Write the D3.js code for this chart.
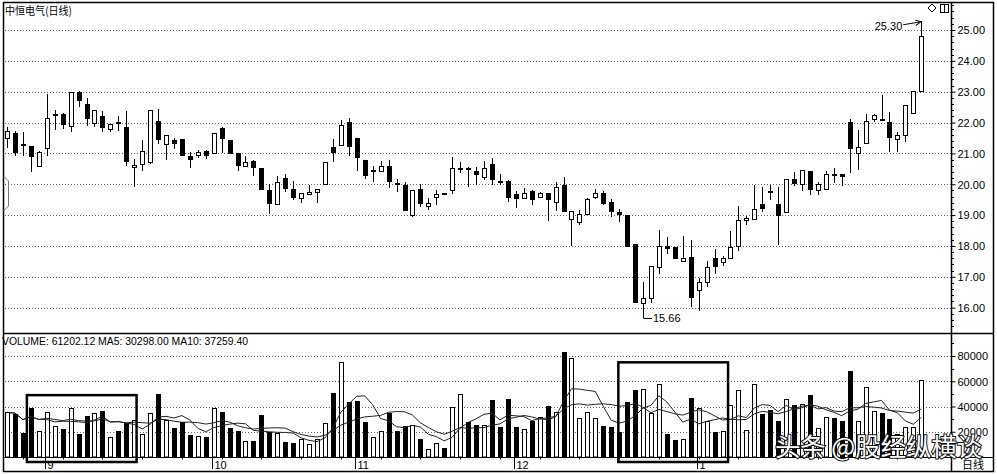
<!DOCTYPE html>
<html><head><meta charset="utf-8">
<script src="https://cdn.jsdelivr.net/npm/d3@7"></script>
<style>
body{margin:0;background:#fff}
svg{display:block}
text{font-family:"Liberation Sans",Arial,sans-serif;fill:#000}
</style>
</head><body><svg id="c" width="997" height="474"></svg>
<script>
// ---------- DATA ----------
const title = "中恒电气(日线)";
const opens  = [21.49,21.66,21.31,21.23,20.60,21.19,22.26,22.27,21.89,23.00,22.61,21.97,22.21,21.78,22.02,21.86,20.56,20.66,20.71,22.05,
                21.30,21.43,21.46,20.91,20.96,21.09,21.00,21.82,21.44,21.00,20.60,20.76,20.52,19.82,19.37,20.19,19.85,19.56,19.69,19.76,
                20.01,21.22,21.28,22.02,21.49,20.78,20.42,20.44,20.60,20.03,19.99,18.99,19.85,19.28,19.60,19.71,19.82,20.50,20.53,20.44,
                20.22,20.65,20.10,20.11,19.68,19.54,19.79,19.59,19.70,19.44,19.98,18.87,18.76,19.03,19.59,19.73,19.41,19.11,19.00,18.06,
                16.16,16.32,17.32,18.00,17.95,17.52,17.65,16.56,16.84,17.62,17.48,17.62,17.99,18.83,18.86,19.35,19.78,19.35,19.10,20.18,
                20.00,20.43,19.81,19.83,20.33,20.33,22.02,21.02,21.34,22.10,22.11,22.02,21.48,21.59,22.32,23.03];
const highs  = [21.86,21.73,21.68,21.25,21.09,22.91,22.40,22.30,23.00,23.02,22.81,22.42,22.38,21.95,22.21,22.38,20.82,21.43,22.40,22.43,
                21.59,21.49,21.47,21.06,21.11,21.11,21.65,21.86,21.45,21.01,20.92,20.77,20.53,20.01,20.28,20.33,20.12,19.72,19.98,19.84,
                20.71,21.46,22.08,22.14,21.50,20.79,20.60,20.76,20.78,20.17,20.06,19.82,20.01,19.56,19.82,19.72,20.87,20.71,20.55,20.57,
                20.76,20.85,20.33,20.13,19.77,19.87,19.80,19.75,19.73,20.06,20.22,19.14,19.16,19.57,19.86,19.79,19.52,19.19,19.01,18.07,
                16.84,17.35,18.51,18.29,17.96,18.33,18.19,16.97,17.52,17.89,17.68,18.48,19.29,18.96,19.97,19.91,19.97,19.91,20.18,20.40,
                20.45,20.44,20.08,20.43,20.54,20.34,22.10,21.75,22.29,22.29,22.89,22.35,21.70,22.56,23.03,25.30];
const lows   = [21.19,20.92,20.92,20.39,20.57,20.92,21.75,21.78,21.68,22.50,21.89,21.84,21.68,21.68,21.73,20.60,19.90,20.44,20.66,21.32,
                20.78,21.14,20.96,20.53,20.85,20.82,21.00,21.00,21.00,20.42,20.57,20.28,19.80,19.04,19.37,19.74,19.49,19.39,19.67,19.40,
                20.01,20.71,21.28,20.92,20.44,20.17,20.06,20.44,19.88,19.74,19.13,18.94,19.26,19.17,19.34,19.64,19.67,20.35,19.90,19.99,
                20.13,19.98,19.98,19.44,19.23,19.54,19.33,19.57,18.81,19.14,19.14,18.00,18.68,19.03,19.52,19.33,18.94,18.76,18.00,16.19,
                15.66,16.16,17.08,17.75,17.62,17.52,16.02,15.89,16.67,17.10,17.36,17.62,17.84,18.67,18.86,19.10,19.48,18.02,19.10,19.94,
                19.78,19.64,19.64,19.83,20.04,19.94,20.37,20.45,21.34,22.02,22.08,21.05,21.05,21.37,22.32,23.03];
const closes = [21.71,21.05,21.29,20.92,21.03,22.16,22.29,21.95,23.00,22.72,22.14,22.42,21.84,21.95,21.99,20.74,20.62,21.09,22.40,21.46,
                21.59,21.33,20.96,20.81,21.05,20.96,21.65,21.49,21.00,20.63,20.71,20.55,19.85,19.39,20.06,19.88,19.58,19.71,19.76,19.83,
                20.71,21.03,21.91,21.25,20.89,20.30,20.46,20.60,20.12,20.00,19.17,19.82,19.39,19.40,19.69,19.69,20.53,20.54,20.50,20.33,
                20.52,20.17,20.08,19.59,19.57,19.70,19.52,19.73,19.52,19.90,19.14,19.14,19.05,19.52,19.71,19.38,19.12,19.03,18.00,16.19,
                16.32,17.35,18.00,17.93,17.62,17.62,16.35,16.84,17.32,17.35,17.61,17.97,18.83,18.89,19.21,19.24,19.76,18.99,20.18,20.04,
                20.45,19.83,20.00,20.32,20.31,20.27,21.16,21.21,22.06,22.24,22.09,21.54,21.59,22.56,23.03,24.81];
const volumes = [35400,34100,19400,38900,20800,35400,24300,22100,38900,18600,32300,34900,36300,16000,20800,26700,29300,18100,34700,49600,
                 29300,22900,27500,17300,16800,15500,38900,36000,22900,20800,12800,12800,33300,20000,18900,12000,10700,14100,10100,14100,
                 26700,50900,75500,43500,44000,28000,16000,20800,34700,20300,24300,25300,14100,6100,10900,7500,40000,50100,28000,25600,
                 25300,44800,23500,46100,23500,22100,28800,32000,40300,35500,83500,78700,30900,35500,30900,24800,23500,19500,43500,52800,
                 54100,34700,57600,18600,13300,14100,46700,38700,28300,20000,20800,40800,53300,21300,58100,34100,37300,28800,46100,40800,
                 42100,49300,22900,32000,30700,28800,68300,28800,55500,36800,34700,30100,18000,23500,23500,61202.12];
const monthLabels = ["9","10","11","12","1"];
const monthStartIndex = [5,26,44,64,87];
const priceTicks = [16,17,18,19,20,21,22,23,24,25];
const volumeTicks = [20000,40000,60000,80000];
const maPeriods = [5,10];
const maLabelValues = [30298.00, 37259.40];
const boxStartIndex = [2.5,76.9];
const boxEndIndex = [16.3,90.7];
const boxTopVolume = [49000,75000];
const watermark = "头条 @股经纵横谈";
const periodLabel = "日线";

// ---------- LAYOUT ----------
const svg = d3.select("#c");
const L = 3.5, R = 993.5, T = 2.5, B = 471.5;
const axisX = 951.5;
const sepY = 333.5, volBase = 457;
const n = closes.length;

const x = d3.scaleLinear().domain([0, n-1]).range([7, 921.25]);
const y = d3.scaleLinear().domain([15.178, 25.875]).range([333, 3]);
const yv = d3.scaleLinear().domain([0, 80000]).range([volBase, 356]);

const px = v => Math.round(v) + 0.5;

// gridlines
const grid = svg.append("g").attr("stroke", "#666").attr("stroke-dasharray", "1,2").attr("stroke-width", 1);
grid.selectAll("line.p").data(priceTicks).join("line")
  .attr("x1", 5).attr("x2", axisX).attr("y1", d => px(y(d))).attr("y2", d => px(y(d)));
grid.selectAll("line.v").data(volumeTicks).join("line")
  .attr("x1", 5).attr("x2", axisX).attr("y1", d => px(yv(d))).attr("y2", d => px(yv(d)));

// candles
const idx = d3.range(n);
const up = i => closes[i] >= opens[i];
const cg = svg.append("g");
cg.selectAll("line").data(idx).join("line")
  .attr("x1", i => Math.round(x(i)) + 0.5).attr("x2", i => Math.round(x(i)) + 0.5)
  .attr("y1", i => Math.round(y(highs[i]))).attr("y2", i => Math.round(y(lows[i])))
  .attr("stroke", "#000").attr("stroke-width", 1);
cg.selectAll("rect").data(idx).join("rect")
  .attr("x", i => Math.round(x(i)) - 1.5).attr("width", 4)
  .attr("y", i => px(y(Math.max(opens[i], closes[i]))))
  .attr("height", i => Math.max(1, Math.round(y(Math.min(opens[i], closes[i]))) - Math.round(y(Math.max(opens[i], closes[i])))))
  .attr("fill", i => up(i) ? "#fff" : "#000").attr("stroke", "#000").attr("stroke-width", 1);

// volume bars
svg.append("g").selectAll("rect").data(idx).join("rect")
  .attr("x", i => Math.round(x(i)) - 1.5).attr("width", 4)
  .attr("y", i => px(yv(volumes[i])))
  .attr("height", i => volBase - px(yv(volumes[i])))
  .attr("fill", i => up(i) ? "#fff" : "#000").attr("stroke", "#000").attr("stroke-width", 1);

// moving averages
const ma = p => volumes.map((_, i) => d3.mean(volumes.slice(Math.max(0, i - p + 1), i + 1)));
const lineGen = d3.line().x((d, i) => x(i)).y(d => yv(d));
maPeriods.forEach(p => {
  svg.append("path").attr("d", lineGen(ma(p))).attr("fill", "none").attr("stroke", "#222").attr("stroke-width", 1);
});

// annotation boxes
svg.append("g").selectAll("rect").data(boxStartIndex.map((s, k) => k)).join("rect")
  .attr("x", k => x(boxStartIndex[k])).attr("width", k => x(boxEndIndex[k]) - x(boxStartIndex[k]))
  .attr("y", k => yv(boxTopVolume[k])).attr("height", k => volBase + 5 - yv(boxTopVolume[k]))
  .attr("fill", "none").attr("stroke", "#000").attr("stroke-width", 2.5);

// frame lines
const frame = svg.append("g").attr("stroke", "#000").attr("stroke-width", 1).attr("fill", "none");
frame.append("rect").attr("x", L).attr("y", T).attr("width", R - L).attr("height", B - T).attr("stroke-width", 1.5);
frame.append("line").attr("x1", L).attr("x2", R).attr("y1", sepY).attr("y2", sepY).attr("stroke-width", 1.5);
frame.append("line").attr("x1", L).attr("x2", R).attr("y1", volBase + 0.5).attr("y2", volBase + 0.5);
frame.append("line").attr("x1", axisX).attr("x2", axisX).attr("y1", T).attr("y2", B).attr("stroke-width", 1.5);

// right price axis
const pAxis = d3.axisRight(y).tickValues(priceTicks).tickFormat(d3.format(".2f")).tickSize(4).tickPadding(2);
const pg = svg.append("g").attr("transform", `translate(${axisX},0)`).call(pAxis);
pg.select(".domain").remove();
pg.selectAll("text").attr("font-size", 11).attr("font-family", "Liberation Sans, Arial, sans-serif").attr("dy", "0.35em");
const minorP = d3.range(15.4, 25.81, 0.2).filter(v => Math.abs(v - Math.round(v)) > 0.01);
svg.append("g").selectAll("line").data(minorP).join("line")
  .attr("x1", axisX).attr("x2", axisX + 2.5).attr("y1", d => px(y(d))).attr("y2", d => px(y(d))).attr("stroke", "#000");

// right volume axis
const vAxis = d3.axisRight(yv).tickValues(volumeTicks).tickFormat(d3.format("d")).tickSize(4).tickPadding(2);
const vg = svg.append("g").attr("transform", `translate(${axisX},0)`).call(vAxis);
vg.select(".domain").remove();
vg.selectAll("text").attr("font-size", 11).attr("font-family", "Liberation Sans, Arial, sans-serif").attr("dy", "0.35em");
const minorV = d3.range(10000, 95000, 10000).filter(v => v % 20000 !== 0);
svg.append("g").selectAll("line").data(minorV).join("line")
  .attr("x1", axisX).attr("x2", axisX + 2.5).attr("y1", d => px(yv(d))).attr("y2", d => px(yv(d))).attr("stroke", "#000");

// x axis month ticks
const mg = svg.append("g");
mg.selectAll("line").data(monthStartIndex).join("line")
  .attr("x1", d => Math.round(x(d)) - 1.5).attr("x2", d => Math.round(x(d)) - 1.5)
  .attr("y1", volBase).attr("y2", volBase + 12).attr("stroke", "#000");
mg.selectAll("text").data(monthStartIndex).join("text")
  .attr("x", d => Math.round(x(d)) + 0.5).attr("y", volBase + 12)
  .attr("font-size", 11).text((d, k) => monthLabels[k]);
svg.append("g").selectAll("line").data(d3.range(2, n, 5)).join("line")
  .attr("x1", d => Math.round(x(d)) + 0.5).attr("x2", d => Math.round(x(d)) + 0.5)
  .attr("y1", volBase).attr("y2", volBase + 2.5).attr("stroke", "#000");

// titles
svg.append("text").attr("x", 5).attr("y", 15).attr("font-size", 11)
  .attr("textLength", 67).attr("lengthAdjust", "spacingAndGlyphs")
  .style("font-family", "'Noto Sans CJK SC',sans-serif").text(title);
const last = n - 1;
const f2 = d3.format(".2f");
svg.append("text").attr("x", 2).attr("y", 345).attr("font-size", 11)
  .attr("textLength", 246).attr("lengthAdjust", "spacingAndGlyphs")
  .text(`VOLUME: ${f2(volumes[last])} MA5: ${f2(maLabelValues[0])} MA10: ${f2(maLabelValues[1])}`);

// high / low markers
const hi = d3.maxIndex(highs), lo = d3.minIndex(lows);
svg.append("text").attr("x", x(hi) - 19).attr("y", y(highs[hi]) + 9).attr("font-size", 11).attr("text-anchor", "end")
  .text(f2(highs[hi]));
svg.append("defs").append("marker").attr("id", "ah").attr("viewBox", "0 0 6 6").attr("refX", 6).attr("refY", 3)
  .attr("markerWidth", 6).attr("markerHeight", 6).attr("orient", "auto")
  .append("path").attr("d", "M0,0 L6,3 L0,6").attr("fill", "none").attr("stroke", "#000");
svg.append("line").attr("x1", x(hi) - 18).attr("y1", y(highs[hi]) + 4).attr("x2", Math.round(x(hi))).attr("y2", y(highs[hi]) + 1)
  .attr("stroke", "#000").attr("marker-end", "url(#ah)");
svg.append("line").attr("x1", Math.round(x(lo)) + 0.5).attr("x2", Math.round(x(lo)) + 9).attr("y1", px(y(lows[lo]))).attr("y2", px(y(lows[lo])))
  .attr("stroke", "#000");
svg.append("text").attr("x", Math.round(x(lo)) + 10).attr("y", y(lows[lo]) + 4).attr("font-size", 11)
  .text(f2(lows[lo]));

// top-right icons
svg.append("path").attr("d", "M932,4 L936,8 L932,12 L928,8 Z").attr("fill", "none").attr("stroke", "#000");
svg.append("rect").attr("x", 940.5).attr("y", 4.5).attr("width", 8).attr("height", 8).attr("fill", "none").attr("stroke", "#000");
svg.append("line").attr("x1", 944.5).attr("x2", 944.5).attr("y1", 4.5).attr("y2", 12.5).attr("stroke", "#000");

// left scroll tab
svg.append("path").attr("d", "M3.5,176 L8.5,181 L8.5,206 L3.5,211").attr("fill", "none").attr("stroke", "#777");

// period label
svg.append("text").attr("x", 962).attr("y", 469).attr("font-size", 11)
  .style("font-family", "'Noto Sans CJK SC',sans-serif").text(periodLabel);

// watermark
svg.append("text").attr("x", 775).attr("y", 456).attr("font-size", 25)
  .attr("textLength", 207).attr("lengthAdjust", "spacingAndGlyphs")
  .style("font-family", "'Noto Sans CJK SC',sans-serif").style("fill", "#fff")
  .attr("stroke", "#111").attr("stroke-width", 2).attr("paint-order", "stroke")
  .attr("xml:space", "preserve").text(watermark);
</script>
</body></html>
